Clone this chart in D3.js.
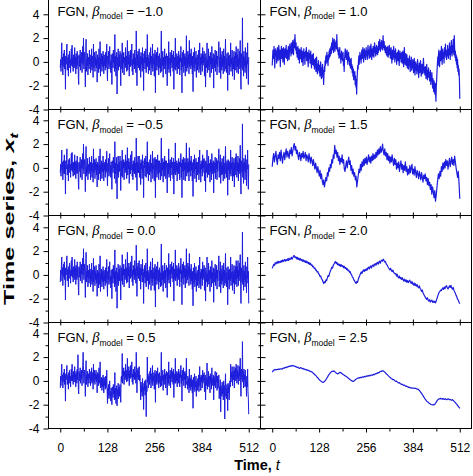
<!DOCTYPE html>
<html><head><meta charset="utf-8">
<script src="https://cdn.jsdelivr.net/npm/d3@7/dist/d3.min.js"></script>
<style>body{margin:0;background:#fff}svg{display:block}</style>
</head><body>
<svg id="chart" width="473" height="476"></svg>
<script>
// ---------------- data ----------------
const betaLabels = ["\u22121.0", "\u22120.5", "0.0", "0.5", "1.0", "1.5", "2.0", "2.5"];
const xTicks = [0, 128, 256, 384, 512];
const xMinorTicks = [64, 192, 320, 448];
const yTicks = [-4, -2, 0, 2, 4];
const yMinorTicks = [-3, -1, 1, 3];

const seriesBetaM10 = [
-0.5,0.2,-0.8,0.6,1.6,-0.3,0.4,-1.1,0.1,0.7,-0.4,1.0,-0.6,0.3,-2.3,0.5,-0.2,0.8,1.5,-0.7,0.0,0.4,-1.2,0.6,-0.1,0.9,-0.5,0.2,-0.9,0.5,1.1,-0.3,
1.4,-0.4,0.3,-0.8,0.6,0.1,-0.5,1.2,-0.2,0.4,-1.0,0.7,0.0,-0.6,0.9,-0.3,0.5,-1.3,-1.9,0.6,0.2,-0.4,1.0,-0.7,0.3,-0.1,0.8,-0.9,0.4,1.3,-0.2,2.0,
-0.6,0.3,0.8,-0.4,-2.1,0.5,1.9,-0.8,0.2,-0.3,0.7,-1.1,0.4,0.0,-0.6,1.0,-0.2,0.6,-0.9,0.3,-0.4,1.1,-0.7,0.2,0.5,-1.3,1.5,-0.5,0.1,0.8,-0.8,0.4,
-0.3,0.9,-0.5,0.2,-1.7,0.6,-0.1,0.4,-0.9,1.1,0.0,-0.6,1.7,-1.2,0.3,-0.2,0.7,-0.8,0.5,-0.4,0.9,0.1,-1.0,0.6,-0.3,0.2,-0.7,0.8,-0.5,-0.2,1.5,-0.6,
-1.6,0.5,-0.2,0.9,-0.6,0.3,1.3,-0.4,0.1,-0.9,0.6,-0.3,-1.9,0.7,0.2,-0.5,1.0,-0.1,0.4,-0.8,2.3,-0.6,0.5,-1.2,0.3,0.8,-2.7,0.4,-0.3,1.1,-0.7,0.2,
0.6,-0.4,0.9,-0.2,-2.0,0.7,0.1,-0.6,1.6,-0.9,0.3,-0.1,0.8,-1.1,0.4,0.0,-0.5,1.2,-0.3,0.5,-0.8,0.2,1.8,-0.7,0.4,-0.2,0.9,-1.2,0.1,0.6,-0.4,1.0,
-0.3,0.5,1.5,-0.8,0.2,-1.1,0.7,-0.2,0.4,-0.6,1.0,-0.4,0.3,-0.9,2.6,0.1,-2.0,0.6,-0.3,0.9,-0.5,0.2,1.1,-0.7,0.0,0.5,-1.3,0.8,-0.2,0.4,-0.8,1.2,
-0.5,0.3,-2.4,0.7,-0.1,0.9,-0.6,0.2,1.1,-0.9,0.4,-0.3,2.3,-0.4,0.6,-1.0,0.3,0.0,-0.7,0.8,-0.2,1.2,-1.1,0.5,0.2,-0.5,1.5,-0.8,0.3,-0.2,0.7,-1.2,
0.4,1.0,-2.6,0.6,-0.3,0.8,-0.7,0.2,1.2,-0.4,0.5,-1.1,0.1,0.7,-0.5,0.3,-0.9,0.6,2.6,-0.8,0.2,-0.3,0.9,-1.3,0.4,0.0,-0.6,1.1,-0.2,0.5,-1.0,0.3,
0.7,-0.4,-2.0,0.5,0.1,-0.6,1.7,-0.9,0.3,-0.2,0.8,-1.2,0.4,-0.1,1.0,-0.5,0.2,0.6,-0.8,0.9,-2.3,0.4,-0.3,-0.6,2.0,-0.7,0.3,-0.4,0.7,-1.0,0.1,0.5,
-0.6,0.9,-0.2,0.4,-1.1,0.6,0.0,1.3,-0.7,0.3,-2.6,0.8,-0.4,0.2,1.0,-0.9,0.5,-0.3,0.7,-1.2,0.4,-0.1,2.2,-0.8,0.3,-0.5,0.9,-0.2,0.6,-1.0,1.8,-0.4,
0.2,0.7,-0.6,1.1,-0.3,0.4,-1.0,0.5,-2.5,0.8,0.1,-0.5,1.2,-0.8,0.3,-0.2,0.9,-1.3,0.4,0.0,-0.7,0.6,-0.3,1.0,-0.9,0.2,1.6,-0.6,0.4,-1.1,0.7,-0.2,
0.5,-0.8,1.2,-0.3,0.6,-0.1,0.9,-1.2,0.3,0.7,-2.1,0.4,-0.5,0.1,1.6,-0.9,0.2,-0.4,1.1,-0.7,0.5,0.0,-1.3,0.8,-0.2,0.4,-0.9,1.3,-0.6,0.3,-0.1,0.7,
-2.2,0.6,0.1,-0.5,1.0,-0.8,0.3,-0.2,0.9,-1.1,0.5,-0.4,0.2,0.8,1.7,-0.9,0.4,-0.3,1.2,-1.4,0.6,0.0,-0.7,0.9,-0.4,0.3,-1.0,1.1,-0.2,0.5,-0.8,0.4,
1.9,-0.6,0.3,-0.9,0.7,0.1,-2.4,0.8,-0.3,0.5,-1.1,0.2,0.6,-0.4,1.6,-0.8,0.3,-0.2,1.0,-1.2,0.4,0.1,-0.6,0.9,-1.5,0.5,-0.3,0.8,-0.7,1.3,0.2,-0.9,
0.6,-0.4,1.1,-1.0,0.3,-0.6,0.9,-0.2,1.8,-0.8,-2.3,0.7,0.2,-0.5,3.7,-0.7,0.5,-1.2,0.9,-0.3,0.4,-0.9,1.2,-0.5,0.1,-1.4,0.8,-0.2,1.6,-0.6,-1.9,0.4];

const seriesBetaM05 = [
-0.4,0.3,-0.7,0.5,1.5,-0.2,0.5,-1.0,0.2,0.6,-0.5,1.1,-0.5,0.2,-2.2,0.6,-0.1,0.7,1.6,-0.6,0.1,0.3,-1.1,0.7,0.0,0.8,-0.4,0.3,-0.8,0.4,1.2,-0.2,
1.3,-0.3,0.4,-0.7,0.5,0.2,-0.6,1.1,-0.1,0.5,-0.9,0.6,0.1,-0.5,1.0,-0.4,0.4,-1.2,-1.8,0.5,0.3,-0.3,0.9,-0.8,0.2,0.0,0.7,-1.0,0.5,1.2,-0.1,2.0,
-0.5,0.4,0.7,-0.3,-2.0,0.6,1.8,-0.7,0.1,-0.4,0.8,-1.0,0.3,0.1,-0.5,0.9,-0.3,0.5,-1.0,0.4,-0.3,1.0,-0.8,0.3,0.4,-1.2,1.6,-0.4,0.0,0.7,-0.9,0.5,
-0.2,0.8,-0.6,0.3,-1.6,0.5,0.0,0.3,-1.0,1.0,0.1,-0.5,1.6,-1.1,0.2,-0.3,0.6,-0.9,0.4,-0.3,1.0,0.0,-1.1,0.5,-0.2,0.3,-0.8,0.7,-0.4,-0.3,1.4,-0.5,
-1.5,0.4,-0.3,0.8,-0.7,0.4,1.2,-0.5,0.2,-0.8,0.5,-0.4,-1.8,0.6,0.3,-0.4,0.9,0.0,0.5,-0.9,2.2,-0.5,0.4,-1.3,0.2,0.9,-2.6,0.3,-0.4,1.0,-0.8,0.3,
0.5,-0.3,1.0,-0.3,-1.9,0.6,0.2,-0.7,1.5,-0.8,0.4,0.0,0.7,-1.0,0.5,-0.1,-0.4,1.1,-0.2,0.6,-0.9,0.3,1.7,-0.6,0.5,-0.1,0.8,-1.3,0.2,0.5,-0.5,1.1,
-0.2,0.6,1.4,-0.7,0.3,-1.0,0.6,-0.3,0.5,-0.5,0.9,-0.5,0.4,-0.8,2.5,0.0,-1.9,0.5,-0.4,1.0,-0.4,0.3,1.0,-0.8,0.1,0.4,-1.4,0.7,-0.1,0.5,-0.9,1.1,
-0.4,0.2,-2.5,0.6,0.0,0.8,-0.7,0.3,1.0,-0.8,0.5,-0.2,2.2,-0.5,0.5,-1.1,0.4,0.1,-0.6,0.7,-0.3,1.1,-1.2,0.4,0.3,-0.4,1.4,-0.9,0.2,-0.1,0.8,-1.1,
0.3,0.9,-2.5,0.7,-0.2,0.7,-0.8,0.3,1.1,-0.5,0.6,-1.0,0.2,0.6,-0.4,0.4,-1.0,0.5,2.5,-0.7,0.3,-0.2,0.8,-1.2,0.5,0.1,-0.7,1.0,-0.1,0.6,-0.9,0.4,
0.6,-0.3,-2.1,0.4,0.2,-0.5,1.6,-0.8,0.4,-0.1,0.7,-1.1,0.5,0.0,0.9,-0.6,0.3,0.5,-0.9,0.8,-2.2,0.5,-0.2,-0.5,2.1,-0.6,0.4,-0.3,0.6,-1.1,0.2,0.4,
-0.5,0.8,-0.3,0.5,-1.0,0.5,0.1,1.2,-0.8,0.4,-2.5,0.7,-0.3,0.3,0.9,-1.0,0.4,-0.2,0.8,-1.1,0.5,0.0,2.1,-0.7,0.4,-0.4,0.8,-0.3,0.5,-1.1,1.7,-0.3,
0.3,0.6,-0.7,1.0,-0.2,0.5,-1.1,0.4,-2.4,0.7,0.2,-0.4,1.1,-0.9,0.4,-0.1,0.8,-1.2,0.5,0.1,-0.6,0.5,-0.4,0.9,-1.0,0.3,1.5,-0.5,0.3,-1.2,0.6,-0.1,
0.4,-0.7,1.1,-0.4,0.7,0.0,0.8,-1.1,0.4,0.6,-2.0,0.5,-0.4,0.2,1.5,-0.8,0.3,-0.5,1.0,-0.6,0.4,0.1,-1.2,0.7,-0.3,0.5,-1.0,1.2,-0.5,0.4,-0.2,0.6,
-2.1,0.5,0.2,-0.4,0.9,-0.9,0.4,-0.1,0.8,-1.0,0.6,-0.3,0.3,0.7,1.6,-0.8,0.5,-0.2,1.1,-1.3,0.5,0.1,-0.6,0.8,-0.5,0.2,-1.1,1.0,-0.3,0.4,-0.9,0.3,
1.8,-0.5,0.4,-0.8,0.6,0.2,-2.3,0.7,-0.2,0.6,-1.0,0.3,0.5,-0.5,1.5,-0.7,0.4,-0.1,0.9,-1.1,0.5,0.0,-0.7,0.8,-1.6,0.4,-0.2,0.9,-0.6,1.2,0.3,-0.8,
0.5,-0.3,1.0,-1.1,0.4,-0.5,0.8,-0.3,1.9,-0.7,-2.2,0.6,0.3,-0.4,3.7,-0.8,0.4,-1.3,0.8,-0.2,0.5,-1.0,1.1,-0.4,0.2,-1.5,0.7,-0.1,1.5,-0.7,-1.8,0.3];

const seriesBeta00 = [
-0.6,0.4,-0.5,0.8,1.5,0.0,0.6,-0.9,0.3,0.9,-0.2,1.1,-0.4,0.5,-2.1,0.6,0.0,0.9,1.6,-0.5,0.2,0.5,-1.0,0.7,0.1,1.0,-0.3,0.4,-0.7,0.6,1.2,-0.1,
1.5,-0.2,0.5,-0.6,0.7,0.3,-0.4,1.3,0.0,0.6,-0.8,0.8,0.2,-0.4,1.1,-0.2,0.6,-1.1,-1.7,0.7,0.4,-0.2,1.1,-0.5,0.4,0.1,0.9,-0.7,0.6,1.4,0.0,2.2,
-0.4,0.5,0.9,-0.2,-1.9,0.6,1.9,-0.6,0.3,-0.2,0.8,-1.0,0.4,0.0,-0.7,0.9,-0.3,0.5,-1.0,0.2,-0.5,1.0,-0.8,0.1,0.4,-1.4,1.4,-0.6,0.0,0.7,-0.9,0.3,
-0.4,0.8,-0.7,0.1,-1.8,0.4,-0.3,0.2,-1.1,0.9,-0.2,-0.8,1.6,-1.4,0.1,-0.4,0.5,-1.0,0.3,-0.6,0.7,-0.1,-1.2,0.4,-0.5,0.0,-0.9,0.6,-0.7,-0.4,1.3,-0.8,
-1.8,0.3,-0.4,0.7,-0.8,0.1,1.1,-0.6,-0.1,-1.1,0.4,-0.5,-2.0,0.5,0.0,-0.7,0.8,-0.3,0.2,-1.0,2.1,-0.8,0.3,-1.4,0.1,0.6,-2.8,0.2,-0.5,0.9,-0.9,0.0,
0.5,-0.5,0.8,-0.3,-2.1,0.6,0.2,-0.5,1.7,-0.8,0.4,0.0,0.9,-1.0,0.5,0.1,-0.4,1.3,-0.2,0.6,-0.7,0.3,1.9,-0.6,0.5,-0.1,1.0,-1.1,0.2,0.7,-0.3,1.1,
-0.2,0.6,1.6,-0.6,0.4,-0.9,0.8,0.0,0.6,-0.4,1.2,-0.2,0.5,-0.7,2.5,0.3,-1.8,0.7,-0.1,1.0,-0.3,0.4,1.2,-0.5,0.2,0.6,-1.2,0.9,0.0,0.5,-0.6,1.3,
-0.6,0.2,-2.4,0.5,-0.2,0.8,-0.7,0.1,1.0,-1.0,0.3,-0.4,2.2,-0.5,0.4,-1.2,0.2,-0.1,-0.8,0.7,-0.3,1.1,-1.3,0.4,0.1,-0.6,1.4,-0.9,0.2,-0.3,0.6,-1.3,
0.3,0.9,-2.7,0.5,-0.4,0.7,-0.8,0.1,1.1,-0.5,0.4,-1.2,0.0,0.6,-0.6,0.2,-1.0,0.5,2.6,-0.9,0.1,-0.4,0.8,-1.4,0.3,-0.1,-0.7,1.0,-0.3,0.4,-1.1,0.2,
0.8,-0.2,-1.9,0.6,0.3,-0.4,1.8,-0.7,0.4,0.0,0.9,-1.0,0.5,0.1,1.1,-0.3,0.3,0.7,-0.6,1.0,-2.2,0.5,-0.1,-0.4,2.1,-0.5,0.4,-0.2,0.8,-0.9,0.2,0.6,
-0.4,1.0,-0.1,0.5,-1.0,0.7,0.1,1.4,-0.6,0.4,-2.5,0.9,-0.3,0.3,1.1,-0.8,0.6,-0.2,0.8,-1.1,0.5,0.0,2.2,-0.7,0.4,-0.4,1.0,-0.1,0.7,-0.9,1.8,-0.3,
0.0,0.5,-0.8,0.9,-0.5,0.2,-1.2,0.3,-2.6,0.6,-0.1,-0.7,1.0,-1.0,0.1,-0.4,0.7,-1.4,0.2,-0.2,-0.9,0.4,-0.5,0.8,-1.1,0.0,1.5,-0.8,0.2,-1.2,0.5,-0.3,
0.4,-0.9,1.1,-0.4,0.5,-0.2,0.8,-1.3,0.2,0.6,-2.2,0.3,-0.6,0.0,1.5,-1.0,0.1,-0.5,1.0,-0.8,0.4,-0.1,-1.4,0.7,-0.3,0.3,-1.0,1.2,-0.7,0.2,-0.2,0.6,
-2.3,0.5,0.0,-0.6,0.9,-0.9,0.2,-0.3,0.8,-1.2,0.4,-0.5,0.1,0.7,1.6,-1.0,0.3,-0.4,1.1,-1.5,0.5,-0.1,-0.8,0.8,-0.5,0.2,-1.1,1.0,-0.3,0.4,-0.9,0.3,
1.8,-0.7,0.2,-1.0,0.6,0.0,-2.5,0.7,-0.4,0.4,-1.2,0.1,0.5,-0.5,1.5,-0.9,0.2,-0.3,0.9,-1.3,0.3,0.0,-0.7,0.8,-1.6,0.4,-0.4,0.7,-0.8,1.2,0.1,-1.0,
0.7,-0.3,1.2,-0.9,0.4,-0.5,1.0,-0.1,1.7,-0.7,-2.4,0.6,0.1,-0.6,3.6,-0.8,0.4,-1.3,0.8,-0.4,0.3,-1.0,1.1,-0.6,0.0,-1.5,0.7,-0.3,1.5,-0.7,0.3,-2.4];

const seriesBeta05 = [
-0.6,0.4,-0.4,0.7,1.4,0.0,0.5,-0.6,0.3,0.7,-0.1,1.0,-0.3,0.4,-1.7,0.6,0.1,0.8,1.3,-0.3,0.2,0.5,-0.7,0.7,0.1,0.9,-0.2,0.4,-0.5,0.6,1.0,0.0,
1.4,0.0,0.5,-0.3,0.8,0.4,-0.1,1.2,0.2,0.6,-0.5,0.8,0.3,-0.2,1.0,0.1,2.2,-0.7,-1.1,0.8,0.5,0.0,1.1,-0.2,0.5,0.2,0.9,-0.4,0.6,1.3,2.4,0.8,
-0.2,0.5,0.9,0.0,-1.3,0.7,1.7,-0.3,0.5,0.1,0.8,-0.5,0.6,0.3,-0.2,1.0,0.2,0.8,-0.4,0.5,0.0,1.1,-0.2,0.5,0.7,-0.7,1.4,-0.1,0.4,0.9,-0.3,0.6,
0.1,0.9,-0.1,0.5,-1.0,0.7,0.2,0.6,-0.4,1.1,0.3,-0.2,1.6,-0.6,0.0,-0.4,0.3,-0.8,0.2,-0.5,0.5,-0.1,-1.0,0.3,-0.4,0.0,-0.7,0.4,-0.6,-0.4,0.9,-0.7,
-1.9,-0.6,-1.2,-0.3,-1.5,-0.8,0.0,-1.3,-0.9,-1.7,-0.6,-1.2,-2.0,-0.5,-0.9,-1.4,-0.3,-1.1,-0.7,-1.6,0.7,-1.5,-0.6,-1.9,-0.8,-0.4,-2.1,-0.7,-1.2,-0.2,-1.5,-0.9,
-0.5,-1.3,-0.3,-1.1,-1.8,0.3,0.4,-0.1,2.3,-0.2,0.7,0.4,1.1,-0.3,0.8,0.5,0.1,1.4,0.3,0.9,-0.1,0.6,1.9,0.0,0.8,0.3,1.2,-0.4,0.6,0.9,0.2,1.3,
0.3,0.9,1.6,-0.1,0.6,-0.3,1.0,0.3,0.8,0.1,1.2,0.2,0.7,-0.2,2.4,0.6,-1.0,0.9,0.3,1.1,0.1,0.6,1.2,0.0,0.5,-0.3,-1.6,-0.1,-0.9,-0.4,-1.3,0.2,
-1.1,-0.5,-2.4,-0.2,-0.8,0.0,-1.2,-0.5,0.1,-3.0,-0.4,-0.9,2.0,-0.1,0.6,-0.6,0.4,0.2,-0.3,0.8,0.1,1.1,-0.6,0.6,0.4,-0.2,1.3,-0.4,0.4,0.0,0.7,-0.7,
0.5,0.9,-1.8,0.6,-0.1,0.8,-0.3,0.4,1.1,-0.1,0.6,-0.6,0.3,0.7,-0.2,0.4,-0.5,0.6,2.4,-0.4,0.4,0.0,0.9,-0.8,0.5,0.2,-0.3,1.0,0.1,0.6,-0.6,0.4,
0.8,0.0,-1.2,0.7,0.4,-0.2,1.6,-0.4,0.5,0.2,0.9,-0.6,0.6,0.2,1.1,-0.1,0.5,0.8,-0.3,1.0,-1.4,0.6,0.1,-0.2,1.9,-0.2,0.5,0.0,0.8,-0.5,0.4,0.7,
-0.2,1.0,0.2,0.6,-0.5,0.8,0.3,1.3,-0.2,0.5,-1.7,0.9,0.0,0.4,1.1,-0.4,0.7,0.1,0.8,-0.6,0.6,0.2,1.9,-0.3,0.0,-0.7,0.4,-0.4,0.2,-1.0,1.0,-0.6,
-0.2,0.2,-0.8,0.5,-0.5,0.0,-1.0,0.1,-2.3,0.3,-0.2,-0.7,0.6,-0.9,-0.1,-0.5,0.4,-1.3,0.0,-0.3,-0.8,0.2,-0.5,0.5,-0.9,-0.1,1.2,-0.4,0.3,-0.8,0.5,-0.1,
0.4,-0.6,0.9,-0.2,0.5,0.0,0.7,-0.9,0.2,0.5,-1.6,0.3,-0.4,0.1,1.5,-0.7,0.2,-0.3,0.8,-0.5,0.4,0.0,-1.0,0.6,-0.2,0.3,-0.7,1.1,-0.4,0.2,-0.1,0.5,
-1.6,0.4,0.1,-0.4,0.8,-0.6,0.2,-0.1,0.7,-0.8,0.4,-0.6,-0.6,-0.2,0.5,-1.5,-0.5,-1.0,0.1,-2.6,-0.4,-0.8,-1.3,-0.1,-1.1,-0.6,-1.6,0.0,-0.9,-0.4,-3.2,-0.5,
0.6,-1.3,-0.6,-1.5,-0.3,-0.8,-2.5,-0.2,-1.0,-0.4,-1.6,-0.6,0.0,-0.5,1.4,-0.1,0.7,0.3,1.2,-0.4,0.8,0.6,0.1,1.2,-0.6,0.9,0.3,1.1,0.0,1.4,0.6,-0.2,
0.9,0.2,1.3,-0.3,0.7,0.0,1.2,0.4,1.9,-0.1,-1.3,1.0,0.6,0.1,3.3,-0.1,0.8,-0.6,1.0,0.1,0.5,-0.5,0.9,-0.4,-0.1,-1.3,0.4,-0.5,1.0,-0.9,-1.5,-2.8];

const seriesBeta10 = [
-0.3,0.4,1.0,0.3,0.8,1.3,0.2,-0.5,0.6,1.1,0.5,0.9,-0.1,0.4,1.2,0.7,0.1,0.9,1.4,0.6,0.2,1.0,-0.4,0.5,0.8,1.3,0.3,0.7,1.1,0.0,0.6,1.2,
0.5,-0.2,0.8,1.1,0.4,0.9,1.4,0.3,0.7,1.0,0.1,0.6,1.3,0.8,0.2,1.0,1.5,0.9,1.2,0.5,1.6,1.1,0.7,1.4,1.8,1.0,0.6,1.3,1.9,1.2,2.3,1.5,
1.0,1.6,0.7,1.2,0.4,0.9,1.3,0.2,0.8,1.1,-0.1,0.5,1.0,0.3,0.7,1.2,0.0,0.6,0.9,0.2,-0.3,0.5,1.1,0.4,0.8,-0.2,0.3,0.9,0.5,1.2,0.1,0.6,
0.8,0.2,-0.4,0.5,1.0,0.3,0.7,-0.1,0.4,0.9,0.0,-0.5,0.3,0.6,-0.2,0.2,0.7,-0.3,0.1,-0.6,0.2,-0.4,0.3,-0.8,-0.1,0.4,-0.6,-1.0,-0.2,-0.7,0.1,-0.5,
-0.9,-0.3,-1.2,-0.6,0.0,-0.8,-1.4,-0.5,-1.0,-0.2,-1.3,-0.7,-1.9,-1.1,-0.4,-0.8,0.1,-0.3,0.5,-0.1,0.3,0.8,0.0,0.4,-0.3,0.6,0.2,0.9,0.4,1.1,0.5,0.9,
1.3,0.7,1.6,1.0,1.4,2.0,1.1,0.8,1.5,1.9,1.2,0.9,1.6,1.3,1.8,1.1,2.3,1.4,0.9,1.2,0.6,1.0,0.3,0.8,1.2,0.4,0.7,-0.1,0.5,0.9,0.2,0.6,
0.1,0.8,-0.3,0.2,-0.8,0.1,0.7,1.1,0.4,0.9,0.2,0.6,1.0,0.3,-0.2,0.5,0.8,0.1,0.4,-0.3,0.2,-0.5,0.0,0.3,-0.6,-0.2,-0.9,-0.4,-1.2,-0.6,-1.5,-0.9,
-1.3,-0.8,-1.9,-1.2,-2.1,-1.5,-2.7,-1.6,-0.9,-0.3,-0.6,0.1,0.5,-0.2,0.3,0.8,0.2,0.6,-0.1,0.4,1.0,0.3,0.7,1.2,0.5,0.0,0.6,1.1,0.4,0.9,0.2,0.7,
1.2,0.5,0.9,0.2,0.8,1.4,0.6,1.0,0.3,0.7,1.3,0.4,0.9,1.5,0.8,0.2,0.7,1.1,0.5,1.3,0.9,0.4,1.0,1.6,0.8,1.2,0.5,0.9,1.4,0.7,1.1,0.6,
1.3,0.8,1.7,1.0,1.5,1.9,1.2,0.9,1.6,1.3,1.8,1.1,1.5,1.0,2.2,1.6,1.2,1.7,1.0,1.4,0.8,1.3,1.1,0.6,1.2,0.5,0.9,1.3,0.4,1.0,0.7,1.4,
0.6,1.1,0.3,0.8,1.2,0.5,-0.1,0.7,1.0,0.2,0.6,1.3,0.4,0.9,0.0,0.5,1.1,0.3,0.7,-0.2,0.4,0.8,0.1,0.6,1.0,0.2,-0.3,0.5,0.9,0.3,0.7,0.0,
0.4,0.8,-0.1,0.3,0.9,0.1,-0.4,0.5,1.2,0.2,-0.2,0.4,0.7,-0.3,0.1,0.6,-0.5,0.0,0.3,-0.6,0.2,-0.2,0.5,-0.4,-0.8,0.1,-0.3,0.4,-0.7,-0.1,-0.5,0.2,
-0.3,-0.9,-0.2,0.3,-0.6,-1.1,-0.4,0.0,-0.7,-0.2,-1.0,-0.5,0.2,-0.3,-0.8,-1.3,-0.6,-0.1,-0.9,-0.4,0.1,-0.5,-1.2,-0.7,-0.2,-0.6,-1.0,-0.3,0.3,-0.4,-0.9,-0.5,
-1.1,-0.4,-0.8,-1.4,-0.6,-0.2,-1.0,-1.5,-0.7,-1.2,-0.5,-1.3,-0.9,-1.6,-1.1,-0.7,-1.9,-1.2,-1.5,-0.9,-1.7,-2.2,-1.4,-1.8,-2.5,-1.6,-2.0,-2.7,-1.8,-2.4,-3.3,-2.1,
-1.5,-0.8,-0.2,0.4,-0.3,0.6,1.0,0.2,-0.4,0.5,0.9,0.1,0.6,1.3,0.4,-0.2,0.7,1.1,0.3,0.8,-0.1,0.5,1.2,0.6,1.5,0.4,0.9,0.2,1.0,0.5,1.4,0.7,
0.3,1.1,0.6,1.6,0.9,0.2,1.3,0.7,1.8,1.0,0.5,1.4,0.8,1.9,1.2,0.6,2.2,1.1,0.4,0.9,0.1,0.6,-0.2,0.4,-0.5,0.2,-0.8,-0.3,-1.1,-0.6,-1.5,-3.1];

const seriesBeta15 = [
0.1,0.8,1.2,0.5,1.0,1.4,0.7,0.3,1.1,0.8,1.3,0.6,1.5,0.9,0.4,1.0,
1.3,0.7,1.2,1.6,0.9,1.4,1.1,0.8,1.5,1.2,1.7,1.0,1.4,1.8,2.05,1.5,
1.8,1.2,1.5,1.0,0.7,1.3,1.1,0.6,1.2,0.9,1.4,0.8,1.0,1.3,0.6,1.1,
0.9,0.5,1.2,0.8,0.4,0.9,0.6,0.2,0.7,0.3,-0.1,0.4,0.0,-0.4,0.1,-0.3,
-0.7,-0.2,-0.9,-0.5,-1.1,-1.4,-1.0,-1.6,-1.2,-0.8,-1.1,-0.4,-0.7,0.0,-0.3,0.3,
0.0,0.7,0.4,1.1,0.8,1.9,1.2,1.5,0.9,1.3,0.6,1.0,0.3,0.8,0.5,1.1,
0.4,0.7,-0.1,-0.3,0.2,0.6,0.0,0.5,0.9,0.3,0.6,-0.2,0.2,-0.5,-0.1,-0.7,
-0.4,-1.0,-0.7,-1.6,-1.1,-0.6,-0.1,-0.4,0.3,-0.2,0.5,0.1,0.7,0.2,0.8,0.4,
0.9,0.3,0.7,1.1,0.5,0.9,0.4,1.0,0.6,1.2,0.7,1.1,0.8,1.3,0.9,1.5,
1.1,1.6,1.2,1.8,1.3,1.5,2.0,1.4,1.1,1.6,1.0,1.3,0.7,1.2,0.6,1.0,
0.4,0.9,0.5,1.1,0.6,0.2,0.8,0.3,0.7,-0.1,0.4,0.0,0.5,-0.3,0.2,0.6,
-0.1,0.3,-0.4,0.2,-0.2,0.5,-0.3,0.1,-0.6,-0.1,-0.5,0.2,-0.4,0.0,0.3,-0.5,
-0.1,-0.6,0.1,-0.4,-0.8,-0.2,-0.5,-0.9,-0.3,-0.6,-1.0,-0.4,-0.8,-1.2,-0.6,-0.9,
-0.5,-1.1,-0.8,-1.4,-0.9,-1.5,-1.2,-1.8,-1.4,-2.2,-1.6,-2.0,-2.5,-1.9,-2.8,-2.3,
-1.6,-1.0,-0.5,-0.9,-0.3,-0.7,0.1,-0.3,0.4,-0.1,0.5,0.0,0.7,0.2,0.6,-0.1,
0.4,0.8,0.1,0.5,0.9,0.3,0.7,0.2,1.0,0.5,0.0,-0.4,-0.8,-0.3,-1.3,-2.6];

const seriesBeta20 = [
0.55,0.72,0.88,0.80,1.02,0.92,1.08,0.98,1.15,1.00,1.12,1.05,1.20,1.08,1.25,1.12,
1.22,1.30,1.15,1.28,1.20,1.35,1.22,1.40,1.28,1.35,1.48,1.32,1.45,1.58,1.62,1.45,
1.52,1.35,1.48,1.30,1.42,1.25,1.38,1.22,1.30,1.15,1.28,1.12,1.20,1.05,1.18,1.02,
1.10,0.95,1.05,0.88,0.98,0.80,0.85,0.68,0.72,0.55,0.58,0.40,0.42,0.25,0.28,0.10,
0.05,-0.15,-0.10,-0.32,-0.40,-0.55,-0.72,-0.58,-0.65,-0.42,-0.48,-0.25,-0.05,-0.12,0.15,0.32,
0.45,0.65,0.58,0.80,0.92,1.05,1.12,0.95,1.05,0.85,0.92,0.78,0.90,0.72,0.85,0.70,
0.78,0.60,0.72,0.55,0.62,0.45,0.52,0.35,0.40,0.22,0.28,0.08,0.00,-0.18,-0.25,-0.42,
-0.50,-0.65,-0.72,-0.55,-0.62,-0.38,-0.20,-0.05,0.10,0.25,0.12,0.30,0.42,0.28,0.45,0.35,
0.52,0.40,0.58,0.65,0.50,0.68,0.75,0.58,0.78,0.85,0.70,0.88,0.95,0.80,0.98,1.05,
0.90,1.08,1.15,0.98,1.18,1.25,1.15,1.32,1.22,1.08,1.12,0.92,0.85,0.72,0.60,0.50,
0.42,0.55,0.38,0.28,0.40,0.22,0.15,0.08,0.12,-0.10,0.05,-0.18,-0.25,-0.10,-0.32,-0.22,
-0.38,-0.25,-0.42,-0.52,-0.35,-0.55,-0.42,-0.62,-0.48,-0.65,-0.52,-0.45,-0.62,-0.72,-0.55,-0.75,
-0.85,-0.68,-0.88,-0.75,-0.95,-0.82,-1.00,-1.08,-0.92,-1.12,-1.22,-1.38,-1.28,-1.50,-1.62,-1.75,
-1.85,-1.98,-2.05,-1.92,-2.12,-2.20,-2.08,-2.28,-2.18,-2.12,-2.30,-2.20,-2.32,-2.22,-2.35,-2.18,
-1.98,-1.78,-1.60,-1.45,-1.38,-1.28,-1.32,-1.18,-1.10,-1.22,-1.02,-1.15,-0.98,-0.90,-1.08,-1.18,
-1.05,-0.92,-1.05,-0.88,-1.08,-1.20,-1.05,-1.28,-1.42,-1.55,-1.72,-1.85,-2.05,-2.12,-2.30,-2.42];

const seriesBeta25 = [
0.73,0.82,0.90,0.95,0.92,0.96,0.94,0.98,0.95,1.00,0.97,1.02,1.00,0.98,1.04,1.08,
1.05,1.10,1.14,1.12,1.18,1.15,1.20,1.24,1.22,1.26,1.28,1.25,1.30,1.27,1.24,1.20,
1.22,1.16,1.12,1.15,1.08,1.05,1.10,1.12,1.06,1.02,1.05,0.98,1.00,0.94,0.96,0.90,
0.92,0.86,0.88,0.82,0.78,0.80,0.74,0.70,0.64,0.58,0.52,0.46,0.40,0.32,0.25,0.18,
0.10,0.04,0.00,-0.06,-0.10,-0.12,-0.10,-0.05,0.02,0.10,0.20,0.30,0.42,0.52,0.60,0.68,
0.74,0.78,0.82,0.80,0.84,0.78,0.72,0.66,0.62,0.58,0.62,0.68,0.72,0.70,0.66,0.60,
0.56,0.52,0.48,0.44,0.40,0.36,0.30,0.26,0.20,0.16,0.10,0.06,0.02,-0.02,-0.05,-0.02,
0.04,0.10,0.15,0.18,0.22,0.25,0.24,0.28,0.30,0.27,0.32,0.34,0.31,0.36,0.38,0.35,
0.40,0.42,0.39,0.44,0.46,0.42,0.48,0.50,0.47,0.52,0.55,0.52,0.58,0.62,0.60,0.66,
0.70,0.68,0.74,0.78,0.82,0.80,0.85,0.84,0.80,0.74,0.68,0.60,0.55,0.48,0.42,0.36,
0.30,0.25,0.20,0.16,0.10,0.12,0.06,0.00,-0.05,-0.02,-0.08,-0.14,-0.18,-0.15,-0.22,-0.26,
-0.30,-0.28,-0.34,-0.38,-0.36,-0.42,-0.46,-0.44,-0.50,-0.54,-0.52,-0.56,-0.60,-0.58,-0.62,-0.60,
-0.62,-0.60,-0.64,-0.62,-0.66,-0.70,-0.68,-0.74,-0.80,-0.88,-0.96,-1.05,-1.14,-1.24,-1.34,-1.44,
-1.54,-1.62,-1.70,-1.76,-1.80,-1.86,-1.90,-1.95,-1.98,-2.00,-2.02,-1.98,-2.02,-1.96,-1.88,-1.78,
-1.68,-1.60,-1.54,-1.50,-1.52,-1.46,-1.50,-1.54,-1.48,-1.52,-1.56,-1.50,-1.53,-1.58,-1.55,-1.50,
-1.54,-1.58,-1.55,-1.60,-1.62,-1.58,-1.64,-1.70,-1.76,-1.82,-1.90,-1.98,-2.06,-2.14,-2.22,-2.30];

const panelSeries = [
  seriesBetaM10, seriesBetaM05, seriesBeta00, seriesBeta05,
  seriesBeta10, seriesBeta15, seriesBeta20, seriesBeta25
];

// ---------------- layout ----------------
const colEdges = [[48.5, 260.5], [260.5, 471.5]];
const rowTops = [-4, 109.5, 215.5, 322.5];
const rowBottoms = [109.5, 215.5, 322.5, 428.5];
const unitPx = 11.9;
const FONT = "'Liberation Sans', Arial, Helvetica, sans-serif";
const LINE = "#1c1cdc";

const svg = d3.select("#chart");
svg.append("rect").attr("width", 473).attr("height", 476).attr("fill", "#fff");

function cleanAxis(g) {
  g.select(".domain").remove();
  g.selectAll(".tick line").attr("stroke", "#000");
  g.selectAll("text").attr("fill", "#000").style("font-family", FONT).style("font-size", "12px");
}

panelSeries.forEach((vals, k) => {
  const col = k < 4 ? 0 : 1;
  const row = k % 4;
  const [x0, x1] = colEdges[col];
  const yb = rowBottoms[row], yt = rowTops[row];
  const x = d3.scaleLinear().domain([-32, 544]).range([x0, x1]);
  const y = d3.scaleLinear().domain([-4, 4]).range([yb, yb - 8 * unitPx]);
  const n = vals.length;
  const g = svg.append("g");

  g.append("path")
    .datum(vals)
    .attr("fill", "none")
    .attr("stroke", LINE)
    .attr("stroke-width", col === 0 ? 1 : 1.2)
    .attr("stroke-linejoin", "round")
    .attr("d", d3.line().x((d, i) => x(i * 512 / (n - 1))).y(d => y(d)));

  if (col === 0) {
    g.append("g").attr("transform", `translate(${x0},0)`)
      .call(d3.axisLeft(y).tickValues(yTicks).tickSize(5).tickPadding(4).tickFormat(d => String(d)))
      .call(cleanAxis);
    g.append("g").attr("transform", `translate(${x0},0)`)
      .call(d3.axisLeft(y).tickValues(yMinorTicks).tickSize(3).tickFormat(""))
      .call(cleanAxis);
    g.append("g").attr("transform", `translate(${x1},0)`)
      .call(d3.axisLeft(y).tickValues(yTicks).tickSize(3).tickFormat(""))
      .call(cleanAxis);
    g.append("g").attr("transform", `translate(${x1},0)`)
      .call(d3.axisLeft(y).tickValues(yMinorTicks).tickSize(2).tickFormat(""))
      .call(cleanAxis);
  } else {
    g.append("g").attr("transform", `translate(${x0},0)`)
      .call(d3.axisRight(y).tickValues(yTicks).tickSize(5).tickFormat(""))
      .call(cleanAxis);
    g.append("g").attr("transform", `translate(${x0},0)`)
      .call(d3.axisRight(y).tickValues(yMinorTicks).tickSize(3).tickFormat(""))
      .call(cleanAxis);
  }

  if (row === 3) {
    g.append("g").attr("transform", `translate(0,${yb})`)
      .call(d3.axisBottom(x).tickValues(xTicks).tickSize(4).tickPadding(11).tickFormat(d => String(d)))
      .call(cleanAxis);
    g.append("g").attr("transform", `translate(0,${yb})`)
      .call(d3.axisBottom(x).tickValues(xMinorTicks).tickSize(3).tickFormat(""))
      .call(cleanAxis);
  } else {
    g.append("g").attr("transform", `translate(0,${yb})`)
      .call(d3.axisBottom(x).tickValues(xTicks).tickSize(3).tickFormat(""))
      .call(cleanAxis);
    g.append("g").attr("transform", `translate(0,${yb})`)
      .call(d3.axisBottom(x).tickValues(xMinorTicks).tickSize(2).tickFormat(""))
      .call(cleanAxis);
  }
  if (row > 0) {
    g.append("g").attr("transform", `translate(0,${yt})`)
      .call(d3.axisTop(x).tickValues(xTicks).tickSize(3).tickFormat(""))
      .call(cleanAxis);
    g.append("g").attr("transform", `translate(0,${yt})`)
      .call(d3.axisTop(x).tickValues(xMinorTicks).tickSize(2).tickFormat(""))
      .call(cleanAxis);
  }

  g.append("rect")
    .attr("x", x0).attr("y", yt).attr("width", x1 - x0).attr("height", yb - yt)
    .attr("fill", "none").attr("stroke", "#000").attr("stroke-width", 1);

  const t = g.append("text")
    .attr("x", x0 + 9).attr("y", yt + 19.5)
    .style("font-family", FONT).style("font-size", "13px").attr("fill", "#000");
  t.append("tspan").text("FGN, ");
  t.append("tspan").text("\u03b2")
    .style("font-family", "'Liberation Serif', 'Times New Roman', serif")
    .style("font-style", "italic").style("font-size", "14.5px");
  t.append("tspan").text("model").attr("dy", 3.5).style("font-size", "8.5px");
  t.append("tspan").text(" = " + betaLabels[k]).attr("dy", -3.5);
});

const xt = svg.append("text")
  .attr("x", 257).attr("y", 470).attr("text-anchor", "middle")
  .style("font-family", FONT).style("font-size", "14.5px").style("font-weight", "bold").attr("fill", "#000");
xt.append("tspan").text("Time, ");
xt.append("tspan").text("t").style("font-style", "italic").style("font-weight", "normal");

const ytl = svg.append("text")
  .attr("transform", "translate(14,305) rotate(-90)")
  .attr("x", 0).attr("y", 0)
  .attr("textLength", 172).attr("lengthAdjust", "spacingAndGlyphs")
  .style("font-family", FONT).style("font-size", "15.5px").style("font-weight", "bold").attr("fill", "#000");
ytl.append("tspan").text("Time series, ");
ytl.append("tspan").text("x").style("font-style", "italic");
ytl.append("tspan").text("t").attr("dy", 4).style("font-size", "10.5px").style("font-style", "italic");
</script>
</body></html>
